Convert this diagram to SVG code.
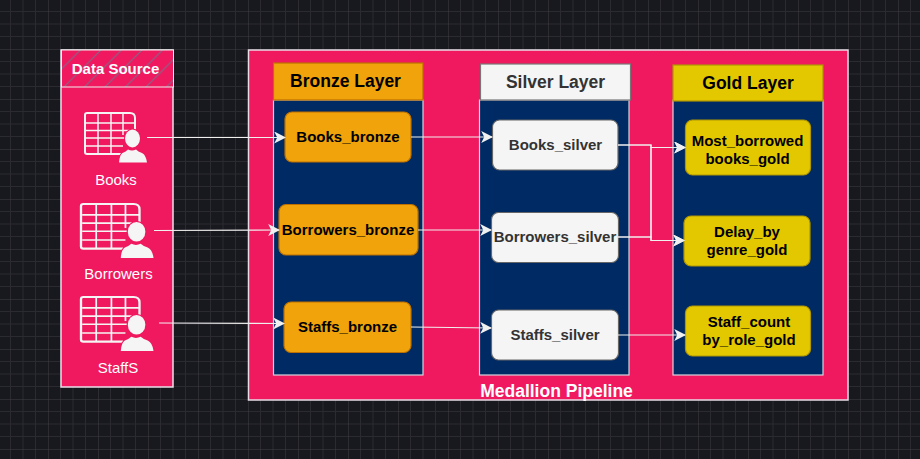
<svg xmlns="http://www.w3.org/2000/svg" width="920" height="459" viewBox="0 0 920 459">
<style>
text{font-family:"Liberation Sans",Arial,sans-serif;text-anchor:middle}
.b{font-weight:700}
.panel{fill:#002a63;stroke:#d6d6e0;stroke-width:1.2}
.head{font-size:17.5px;font-weight:700}
.n{font-size:15px;font-weight:700}
.or{fill:#f0a30a;stroke:#bd7000;stroke-width:1.2}
.si{fill:#f5f5f5;stroke:#666;stroke-width:1.2}
.go{fill:#e3c800;stroke:#b09500;stroke-width:1.2}
.c{fill:none;stroke:#f0f0f0;stroke-width:1.2}
.lbl{font-size:15px;fill:#fff}
.tb{fill:none;stroke:#f5f5f5;stroke-width:1.5}
.tbo{fill:none;stroke:#f5f5f5;stroke-width:2}
.p{fill:#f5f5f5;stroke:#f0185f;stroke-width:2;paint-order:stroke}
</style>
<defs>
<pattern id="g" width="50" height="50" patternUnits="userSpaceOnUse" x="-2" y="-1">
<path d="M12.5 0V50M25 0V50M37.5 0V50M0 12.5H50M0 25H50M0 37.5H50" stroke="#2a2a30" stroke-width="1" fill="none"/>
<path d="M0 0V50M0 0H50" stroke="#404044" stroke-width="1" fill="none"/>
</pattern>
<pattern id="h" width="20.5" height="20.5" patternUnits="userSpaceOnUse" x="60" y="50">
<path d="M-2 22.5L22.5 -2M-2 2L2 -2M18.5 22.5L22.5 18.5" stroke="#76708a" stroke-width="1" fill="none"/>
</pattern>
<marker id="a" viewBox="0 0 10 10" refX="9" refY="5" markerWidth="12" markerHeight="12" markerUnits="userSpaceOnUse" orient="auto">
<path d="M0 0L10 5L0 10L2.5 5Z" fill="#f0f0f0"/>
</marker>
<g id="ico">
<path class="tbo" d="M36 41H2Q0 41 0 39V2Q0 0 2 0H45Q50 0 50 5V17"/>
<path class="tb" d="M13 1V41M26 1V41M38 1V22M1 10H50M1 17.500H49M1 25H40M1 33H38"/>
<ellipse class="p" cx="47.500" cy="25.500" rx="7.500" ry="9"/>
<path class="p" d="M34 49.500Q34.500 42 37.500 40Q41 38.500 43 36.500Q47 38.500 51 36.500Q53 38.500 57 40Q61 42 62 49.500Z"/>
</g>
</defs>
<rect width="920" height="459" fill="#18181f"/>
<rect width="920" height="459" fill="url(#g)"/>

<g id="data-source">
<rect x="61" y="50" width="112" height="337" fill="#f0185f" stroke="#e8e0e8" stroke-width="1.500"/>
<rect x="61.500" y="50" width="112" height="37" fill="#f0185f"/>
<rect x="61.500" y="50" width="112" height="37" fill="url(#h)" stroke="#f0f0f0" stroke-width="1"/>
<text x="115.500" y="74" class="b" font-size="15" fill="#fff">Data Source</text>
</g>
<g id="books-src"><use href="#ico" transform="translate(85 113)"/><text x="116" y="185" class="lbl">Books</text></g>
<g id="borrowers-src"><use href="#ico" transform="translate(81 204) scale(1.170 1.090)"/><text x="118.500" y="279" class="lbl">Borrowers</text></g>
<g id="staffs-src"><use href="#ico" transform="translate(81 297) scale(1.170 1.090)"/><text x="118" y="373" class="lbl">StaffS</text></g>

<g id="medallion">
<rect x="248.500" y="50" width="599.500" height="350" fill="#f0185f" stroke="#e6dde6" stroke-width="1.500"/>
<text x="556.500" y="397" class="b" font-size="17.500" fill="#fff">Medallion Pipeline</text>
</g>

<g id="bronze-layer">
<rect x="273.500" y="100" width="149.500" height="275" class="panel"/>
<rect x="273.500" y="63" width="149.500" height="37" class="or"/>
<text x="345.500" y="87" class="head" fill="#000">Bronze Layer</text>
</g>
<g id="silver-layer">
<rect x="479.500" y="100" width="149.500" height="275" class="panel"/>
<rect x="480.500" y="64" width="150" height="36" fill="#f5f5f5" stroke="#777" stroke-width="1.200"/>
<text x="555.500" y="88" class="head" fill="#333">Silver Layer</text>
</g>
<g id="gold-layer">
<rect x="673" y="100" width="150" height="275" class="panel"/>
<rect x="673" y="65" width="150" height="36" class="go"/>
<text x="748" y="89" class="head" fill="#000">Gold Layer</text>
</g>

<g id="books-bronze"><rect x="285" y="112" width="126" height="50" rx="7" class="or"/><text x="348" y="142" class="n" fill="#000">Books_bronze</text></g>
<g id="borrowers-bronze"><rect x="279" y="204.500" width="139" height="50.500" rx="7" class="or"/><text x="348" y="235" class="n" fill="#000">Borrowers_bronze</text></g>
<g id="staffs-bronze"><rect x="284" y="302" width="127" height="50.500" rx="7" class="or"/><text x="347.500" y="332" class="n" fill="#000">Staffs_bronze</text></g>

<g id="books-silver"><rect x="492.500" y="120" width="125.500" height="50" rx="7" class="si"/><text x="555.500" y="150" class="n" fill="#333">Books_silver</text></g>
<g id="borrowers-silver"><rect x="491.500" y="212.500" width="127" height="50" rx="7" class="si"/><text x="555" y="242" class="n" fill="#333">Borrowers_silver</text></g>
<g id="staffs-silver"><rect x="491.500" y="310" width="127" height="50" rx="7" class="si"/><text x="555" y="340" class="n" fill="#333">Staffs_silver</text></g>

<g id="most-borrowed"><rect x="685.500" y="120" width="125" height="55" rx="7" class="go"/><text x="747.500" y="146" class="n" fill="#000">Most_borrowed</text><text x="747.500" y="164" class="n" fill="#000">books_gold</text></g>
<g id="delay-genre"><rect x="684" y="216" width="126" height="50" rx="7" class="go"/><text x="747" y="237" class="n" fill="#000">Delay_by</text><text x="747" y="255" class="n" fill="#000">genre_gold</text></g>
<g id="staff-count"><rect x="685.500" y="306" width="125" height="50" rx="7" class="go"/><text x="749" y="327" class="n" fill="#000">Staff_count</text><text x="749" y="345" class="n" fill="#000">by_role_gold</text></g>

<g id="connectors">
<path class="c" marker-end="url(#a)" d="M147 137.500H285"/>
<path class="c" marker-end="url(#a)" d="M154 230.500L279 230"/>
<path class="c" marker-end="url(#a)" d="M159 323L284 323.500"/>
<path class="c" marker-end="url(#a)" d="M411 137L492 137"/>
<path class="c" marker-end="url(#a)" d="M418 230H491"/>
<path class="c" marker-end="url(#a)" d="M411 327L491 328"/>
<path class="c" marker-end="url(#a)" d="M618 145H651V147.500H685"/>
<path class="c" marker-end="url(#a)" d="M618 145H651V240.500H684"/>
<path class="c" marker-end="url(#a)" d="M618 237H651V147.500H685"/>
<path class="c" marker-end="url(#a)" d="M618 237H651V240.500H684"/>
<path class="c" marker-end="url(#a)" d="M618 335H685"/>
</g>
</svg>
